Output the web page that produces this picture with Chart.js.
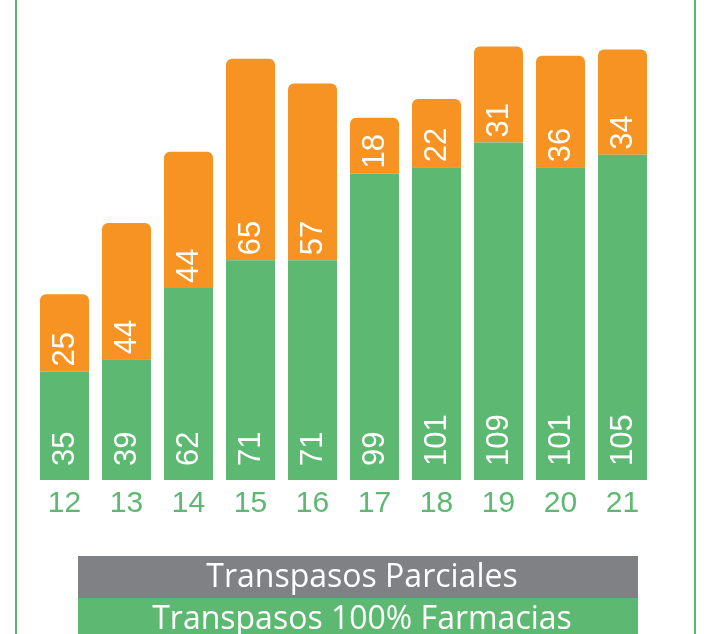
<!DOCTYPE html>
<html>
<head>
<meta charset="utf-8">
<script src="https://cdn.jsdelivr.net/npm/chart.js@4/dist/chart.umd.min.js"></script>
<style>
  html, body { margin: 0; padding: 0; background: #ffffff; }
  #wrap { position: relative; width: 707px; height: 634px; overflow: hidden; }
  #frame { position: absolute; left: 15px; top: 0; width: 681px; height: 634px;
           border-left: 2px solid #5cb46e; border-right: 2px solid #5cb46e; box-sizing: border-box; }
  canvas { position: absolute; left: 0; top: 0; }
</style>
</head>
<body>
<div id="wrap">
  <div id="frame"></div>
  <canvas id="c" width="707" height="634"></canvas>
</div>
<script>
const categories = ['12', '13', '14', '15', '16', '17', '18', '19', '20', '21'];
const full100 = [35, 39, 62, 71, 71, 99, 101, 109, 101, 105];
const parciales = [25, 44, 44, 65, 57, 18, 22, 31, 36, 34];
const seriesNames = ['Transpasos Parciales', 'Transpasos 100% Farmacias'];
const legendColors = ['#7f8184', '#5db872'];

const GREEN = '#5db872';
const ORANGE = '#f69322';

const valueLabels = {
  id: 'valueLabels',
  afterDatasetsDraw(chart) {
    const ctx = chart.ctx;
    ctx.save();
    ctx.fillStyle = '#ffffff';
    ctx.font = '31px "Liberation Sans", Arial, sans-serif';
    ctx.textAlign = 'left';
    ctx.textBaseline = 'middle';
    chart.data.datasets.forEach((ds, di) => {
      const meta = chart.getDatasetMeta(di);
      const off = ds.labelOffset;
      meta.data.forEach((el, i) => {
        ctx.save();
        ctx.translate(el.x, el.base - off);
        ctx.rotate(-Math.PI / 2);
        ctx.fillText(String(ds.data[i]), 0, 1);
        ctx.restore();
      });
    });
    ctx.restore();
  }
};

const boxLegend = {
  id: 'boxLegend',
  afterDraw(chart) {
    const ctx = chart.ctx;
    ctx.save();
    const left = 78, width = 560;
    const rows = [{ y: 556, h: 42 }, { y: 598, h: 42 }];
    ctx.font = '32px "Open Sans", sans-serif';
    ctx.textAlign = 'center';
    ctx.textBaseline = 'middle';
    seriesNames.forEach((name, i) => {
      ctx.fillStyle = legendColors[i];
      ctx.fillRect(left, rows[i].y, width, rows[i].h);
      ctx.fillStyle = '#ffffff';
      ctx.fillText(name, left + width / 2 + 4, rows[i].y + rows[i].h / 2 + 1);
    });
    ctx.restore();
  }
};

new Chart(document.getElementById('c'), {
  type: 'bar',
  data: {
    labels: categories,
    datasets: [
      {
        label: seriesNames[1],
        data: full100,
        backgroundColor: GREEN,
        borderWidth: 0,
        borderRadius: 0,
        labelOffset: 14
      },
      {
        label: seriesNames[0],
        data: parciales,
        backgroundColor: ORANGE,
        borderWidth: 0,
        borderSkipped: 'start',
        borderRadius: { topLeft: 6, topRight: 6, bottomLeft: 0, bottomRight: 0 },
        labelOffset: 5
      }
    ]
  },
  options: {
    responsive: false,
    animation: false,
    events: [],
    devicePixelRatio: 1,
    layout: { padding: { left: 33.5, right: 53.5, top: 0, bottom: 114 } },
    datasets: { bar: { barPercentage: 0.79, categoryPercentage: 1.0 } },
    plugins: { legend: { display: false }, tooltip: { enabled: false } },
    scales: {
      x: {
        stacked: true,
        grid: { display: false },
        border: { display: false },
        ticks: {
          color: '#5db872',
          padding: -2,
          font: { family: '"Liberation Sans", Arial, sans-serif', size: 30 }
        }
      },
      y: {
        stacked: true,
        display: false,
        min: 0,
        max: 155
      }
    }
  },
  plugins: [valueLabels, boxLegend]
});
</script>
</body>
</html>
